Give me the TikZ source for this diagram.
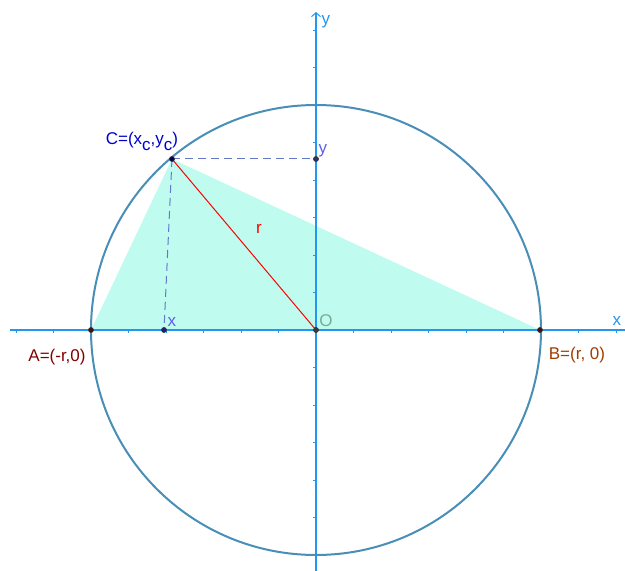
\documentclass[tikz,border=0pt]{standalone}
\usepackage{fontspec}
\setmainfont{Liberation Sans}
\usetikzlibrary{arrows.meta,calc}
\definecolor{cAxis}{RGB}{33,150,243}
\definecolor{cCircle}{RGB}{72,142,182}
\definecolor{cFill}{RGB}{0,240,190}
\definecolor{cDash}{RGB}{100,120,200}
\definecolor{cPtC}{RGB}{0,0,205}
\definecolor{cPtA}{RGB}{128,0,0}
\definecolor{cPtB}{RGB}{160,60,0}
\definecolor{cPtXY}{RGB}{95,95,235}
\definecolor{cOrig}{RGB}{120,170,150}
\definecolor{cDotA}{RGB}{70,15,15}
\definecolor{cDotC}{RGB}{0,0,90}
\definecolor{cDotX}{RGB}{30,30,130}
\definecolor{cDotY}{RGB}{50,50,95}
\definecolor{cDotO}{RGB}{60,60,60}
\tikzset{
  axis/.style={draw=cAxis, line width=1.1pt},
  tick/.style={draw=cAxis, line width=0.9pt},
  circ/.style={draw=cCircle, line width=2pt},
  tri/.style={fill=cFill, fill opacity=0.25},
  radius line/.style={draw=red, line width=1pt},
  proj/.style={draw=cDash, line width=1pt, dash pattern=on 8pt off 5pt},
  pt/.style={circle, draw=black!80, fill=#1, line width=0.7pt,
             minimum size=5pt, inner sep=0pt},
  lbl/.style={font=\fontsize{17}{20}\selectfont, inner sep=0pt},
}
\newcommand{\lowc}{\raisebox{-6pt}{c}}

\begin{document}
\begin{tikzpicture}[x=1pt, y=1pt]
\useasboundingbox (-316,-241) rectangle (309,330);

\def\R{225}   % circle radius, in px
\def\T{37.5}  % tick pitch = R/6

%% points
\coordinate (O) at (0,0);
\coordinate (A) at (-\R,0);
\coordinate (B) at (224,0);
\coordinate (C) at (-144,171);
\coordinate (X) at (-152,0);
\coordinate (Y) at (0,171);
\coordinate (xl) at (-306,0);
\coordinate (xr) at (309,0);
\coordinate (yb) at (0,-241);
\coordinate (yt) at (0,318);

%% triangle ABC
\fill[tri] (A) -- (B) -- (C) -- cycle;

%% axes with ticks
\draw[axis] (xl) -- (xr);
\draw[axis, -{Straight Barb[length=4pt, width=9pt, line width=1pt]}] (yb) -- (yt);
\foreach \k in {-8,...,-1,1,2,...,8}
  \draw[tick] (\k*\T,0) -- ++(0,-3);
\foreach \k in {-6,...,-1,1,2,...,8}
  \draw[tick] (0,\k*\T) -- ++(-3,0);
\node[lbl, text=cAxis] (xname) at (301,9) {x};
\node[lbl, text=cAxis] (yname) at (10,308) {y};

%% the circle
\draw[circ] (O) circle (\R);

%% projections of C
\draw[proj] (C) -- (X);
\draw[proj] (C) -- (Y);

%% radius
\draw[radius line] (C) -- (O);
\node[lbl, text=red] (rname) at (-57,101) {r};

%% point marks
\node[pt=cDotA] (pA) at (A) {};
\node[pt=cDotA] (pB) at (B) {};
\node[pt=cDotC] (pC) at (C) {};
\node[pt=cDotX] (pX) at (X) {};
\node[pt=cDotY] (pY) at (Y) {};
\node[pt=cDotO] (pO) at (O) {};

%% labels
\node[lbl, text=cPtC] (cname) at (-174,189) {C=(x\lowc,y\lowc)};
\node[lbl, text=cPtA] (aname) at (-259,-27) {A=(-r,0)};
\node[lbl, text=cPtB] (bname) at (261,-25) {B=(r, 0)};
\node[lbl, text=cOrig] (oname) at (10,9) {O};
\node[lbl, text=cPtXY] (xpt) at (-144,8) {x};
\node[lbl, text=cPtXY] (ypt) at (7,179) {y};

\end{tikzpicture}
\end{document}
